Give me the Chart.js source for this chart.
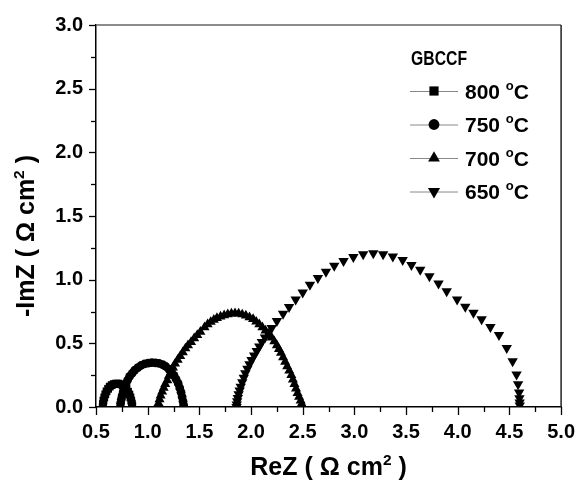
<!DOCTYPE html>
<html lang="en">
<head>
<meta charset="UTF-8">
<title>GBCCF | Impedancia</title>
<script src="https://cdn.jsdelivr.net/npm/chart.js"></script>
<style>
  html, body { margin: 0; padding: 0; background: #fff; }
</style>
</head>
<body>
<canvas id="grafico" width="588" height="480"></canvas>
<script>
// valores (ReZ, -ImZ em ohm cm2)
const reZ800 = [0.565, 0.567, 0.572, 0.58, 0.59, 0.602, 0.617, 0.633, 0.652, 0.672, 0.694, 0.716, 0.738, 0.758, 0.777, 0.795, 0.81, 0.823, 0.833, 0.841, 0.847, 0.851];
const imZ800 = [0.0, 0.025, 0.05, 0.075, 0.10, 0.123, 0.143, 0.16, 0.172, 0.18, 0.184, 0.184, 0.179, 0.17, 0.157, 0.14, 0.12, 0.098, 0.075, 0.05, 0.027, 0.008];

const reZ750 = [0.735, 0.738, 0.745, 0.753, 0.763, 0.775, 0.79, 0.805, 0.825, 0.85, 0.875, 0.905, 0.935, 0.97, 1.005, 1.04, 1.075, 1.11, 1.145, 1.175, 1.205, 1.23, 1.255, 1.275, 1.295, 1.31, 1.323, 1.333, 1.342, 1.348];
const imZ750 = [0.0, 0.03, 0.06, 0.09, 0.12, 0.15, 0.18, 0.21, 0.24, 0.265, 0.29, 0.31, 0.326, 0.338, 0.345, 0.348, 0.347, 0.342, 0.332, 0.318, 0.298, 0.275, 0.248, 0.218, 0.185, 0.15, 0.115, 0.08, 0.045, 0.015];

const reZ700 = [1.10, 1.105, 1.115, 1.125, 1.14, 1.155, 1.17, 1.19, 1.205, 1.225, 1.245, 1.265, 1.29, 1.315, 1.34, 1.365, 1.39, 1.42, 1.45, 1.48, 1.51, 1.55, 1.58, 1.61, 1.64, 1.67, 1.705, 1.74, 1.775, 1.81, 1.845, 1.88, 1.915, 1.95, 1.985, 2.02, 2.05, 2.08, 2.11, 2.14, 2.17, 2.20, 2.225, 2.25, 2.27, 2.29, 2.31, 2.33, 2.35, 2.37, 2.39, 2.405, 2.42, 2.435, 2.45, 2.465, 2.48, 2.49, 2.50];
const imZ700 = [0.0, 0.03, 0.06, 0.09, 0.12, 0.15, 0.18, 0.21, 0.245, 0.275, 0.31, 0.34, 0.37, 0.40, 0.43, 0.46, 0.485, 0.51, 0.54, 0.565, 0.59, 0.625, 0.65, 0.668, 0.684, 0.698, 0.71, 0.72, 0.728, 0.733, 0.735, 0.733, 0.727, 0.718, 0.705, 0.69, 0.67, 0.65, 0.625, 0.60, 0.575, 0.545, 0.515, 0.485, 0.455, 0.425, 0.39, 0.355, 0.32, 0.285, 0.25, 0.215, 0.18, 0.145, 0.11, 0.08, 0.05, 0.025, 0.005];

const reZ650 = [1.86, 1.862, 1.866, 1.872, 1.88, 1.89, 1.90, 1.915, 1.93, 1.945, 1.965, 1.985, 2.005, 2.03, 2.055, 2.08, 2.105, 2.135, 2.165, 2.20, 2.25, 2.31, 2.368, 2.432, 2.50, 2.57, 2.647, 2.725, 2.805, 2.895, 2.99, 3.085, 3.183, 3.278, 3.372, 3.467, 3.552, 3.637, 3.726, 3.814, 3.893, 3.994, 4.073, 4.152, 4.231, 4.316, 4.399, 4.474, 4.531, 4.569, 4.584, 4.594, 4.597, 4.599, 4.60];
const imZ650 = [0.0, 0.02, 0.045, 0.07, 0.10, 0.13, 0.16, 0.195, 0.23, 0.265, 0.30, 0.335, 0.37, 0.405, 0.44, 0.475, 0.51, 0.545, 0.58, 0.62, 0.676, 0.733, 0.785, 0.845, 0.90, 0.96, 1.013, 1.063, 1.11, 1.147, 1.178, 1.199, 1.207, 1.199, 1.181, 1.155, 1.116, 1.078, 1.026, 0.969, 0.909, 0.845, 0.787, 0.741, 0.689, 0.629, 0.565, 0.464, 0.360, 0.256, 0.179, 0.114, 0.068, 0.035, 0.012];

const temperaturas = ['800', '750', '700', '650'];
const nomeAmostra = 'GBCCF';
const xTicks = [0.5, 1.0, 1.5, 2.0, 2.5, 3.0, 3.5, 4.0, 4.5, 5.0];
const yTicks = [0.0, 0.5, 1.0, 1.5, 2.0, 2.5, 3.0];

const fonte = '"Liberation Sans", Arial, Helvetica, sans-serif';

function pontos(xs, ys) {
    return xs.map((x, i) => ({ x: x, y: ys[i] }));
}

const estilos = [
    { pointStyle: 'rect', rotation: 0, radius: 5.5 },
    { pointStyle: 'circle', rotation: 0, radius: 4.4 },
    { pointStyle: 'triangle', rotation: 0, radius: 5.8 },
    { pointStyle: 'triangle', rotation: 180, radius: 6 }
];
const series = [pontos(reZ800, imZ800), pontos(reZ750, imZ750), pontos(reZ700, imZ700), pontos(reZ650, imZ650)];

const datasets = series.map((d, i) => ({
    label: temperaturas[i] + ' °C',
    data: d,
    showLine: false,
    pointStyle: estilos[i].pointStyle,
    rotation: estilos[i].rotation,
    pointRadius: estilos[i].radius,
    pointBackgroundColor: '#000',
    pointBorderColor: '#000',
    pointBorderWidth: 0
}));

// desenha texto com um sobrescrito no meio
function textoComSobrescrito(ctx, partes, x, y, tamanho, alinhar) {
    let largura = 0;
    partes.forEach(p => {
        ctx.font = 'bold ' + (p.sup ? tamanho * 0.62 : tamanho) + 'px ' + fonte;
        largura += ctx.measureText(p.t).width;
    });
    let cx = alinhar === 'center' ? x - largura / 2 : x;
    partes.forEach(p => {
        ctx.font = 'bold ' + (p.sup ? tamanho * 0.62 : tamanho) + 'px ' + fonte;
        ctx.fillText(p.t, cx, p.sup ? y - tamanho * 0.42 : y);
        cx += ctx.measureText(p.t).width;
    });
}

const moldura = {
    id: 'moldura',
    afterDraw(chart) {
        const ctx = chart.ctx;
        const a = chart.chartArea;
        const sx = chart.scales.x, sy = chart.scales.y;
        ctx.save();

        // borda de cima e da direita
        ctx.lineWidth = 1.5;
        ctx.strokeStyle = '#666';
        ctx.beginPath(); ctx.moveTo(a.left, a.top); ctx.lineTo(a.right, a.top); ctx.stroke();
        ctx.strokeStyle = '#222';
        ctx.beginPath(); ctx.moveTo(a.right, a.top); ctx.lineTo(a.right, a.bottom); ctx.stroke();

        // marcas dos eixos (maiores e menores)
        ctx.strokeStyle = '#000';
        ctx.lineWidth = 1.3;
        xTicks.forEach((v, i) => {
            const px = Math.round(sx.getPixelForValue(v)) + 0.5;
            ctx.beginPath(); ctx.moveTo(px, a.bottom); ctx.lineTo(px, a.bottom + 8); ctx.stroke();
            if (i < xTicks.length - 1) {
                const pm = Math.round(sx.getPixelForValue((v + xTicks[i + 1]) / 2)) + 0.5;
                ctx.beginPath(); ctx.moveTo(pm, a.bottom); ctx.lineTo(pm, a.bottom + 5); ctx.stroke();
            }
        });
        yTicks.forEach((v, i) => {
            const py = Math.round(sy.getPixelForValue(v)) + 0.5;
            ctx.beginPath(); ctx.moveTo(a.left, py); ctx.lineTo(a.left - 7, py); ctx.stroke();
            if (i < yTicks.length - 1) {
                const pm = Math.round(sy.getPixelForValue((v + yTicks[i + 1]) / 2)) + 0.5;
                ctx.beginPath(); ctx.moveTo(a.left, pm); ctx.lineTo(a.left - 5, pm); ctx.stroke();
            }
        });

        // titulos dos eixos
        ctx.fillStyle = '#000';
        ctx.textBaseline = 'alphabetic';
        textoComSobrescrito(ctx, [{ t: 'ReZ ( Ω cm' }, { t: '2', sup: true }, { t: ' )' }],
            (a.left + a.right) / 2, 475, 25, 'center');
        ctx.save();
        ctx.translate(34, 236);
        ctx.rotate(-Math.PI / 2);
        textoComSobrescrito(ctx, [{ t: '-ImZ ( Ω cm' }, { t: '2', sup: true }, { t: ' )' }],
            0, 0, 25, 'center');
        ctx.restore();

        // legenda
        ctx.textBaseline = 'middle';
        ctx.font = 'bold 21px ' + fonte;
        ctx.fillText(nomeAmostra, 411, 59, 56);
        temperaturas.forEach((t, i) => {
            const y = 91 + i * 33.5;
            ctx.strokeStyle = '#888';
            ctx.lineWidth = 1;
            ctx.beginPath(); ctx.moveTo(410, y + 0.5); ctx.lineTo(458, y + 0.5); ctx.stroke();
            ctx.fillStyle = '#000';
            Chart.helpers.drawPoint(ctx, {
                pointStyle: estilos[i].pointStyle,
                rotation: estilos[i].rotation,
                radius: estilos[i].radius + 1,
                borderWidth: 0
            }, 434, y);
            ctx.textBaseline = 'alphabetic';
            textoComSobrescrito(ctx, [{ t: t + ' ' }, { t: 'o', sup: true }, { t: 'C' }], 465, y + 7.5, 21, 'left');
            ctx.textBaseline = 'middle';
        });

        ctx.restore();
    }
};

new Chart(document.getElementById('grafico'), {
    type: 'scatter',
    data: { datasets: datasets },
    options: {
        responsive: false,
        animation: false,
        devicePixelRatio: 1,
        layout: { padding: { top: 21, right: 17, left: 0, bottom: 0 } },
        plugins: { legend: { display: false }, tooltip: { enabled: false } },
        scales: {
            x: {
                type: 'linear',
                min: 0.5,
                max: 5.0,
                afterFit: (s) => { s.height = 73; },
                afterBuildTicks: (s) => { s.ticks = xTicks.map(v => ({ value: v })); },
                grid: { display: false, drawTicks: false },
                border: { display: true, color: '#000', width: 1.5 },
                ticks: {
                    padding: 13,
                    color: '#000',
                    font: { family: fonte, size: 20, weight: 'bold' },
                    callback: (v) => Number(v).toFixed(1)
                }
            },
            y: {
                type: 'linear',
                min: 0,
                max: 3.0,
                afterFit: (s) => { s.width = 96; },
                afterBuildTicks: (s) => { s.ticks = yTicks.map(v => ({ value: v })); },
                grid: { display: false, drawTicks: false },
                border: { display: true, color: '#000', width: 1.5 },
                ticks: {
                    padding: 13,
                    color: '#000',
                    font: { family: fonte, size: 20, weight: 'bold' },
                    callback: (v) => Number(v).toFixed(1)
                }
            }
        }
    },
    plugins: [moldura]
});
</script>
</body>
</html>
